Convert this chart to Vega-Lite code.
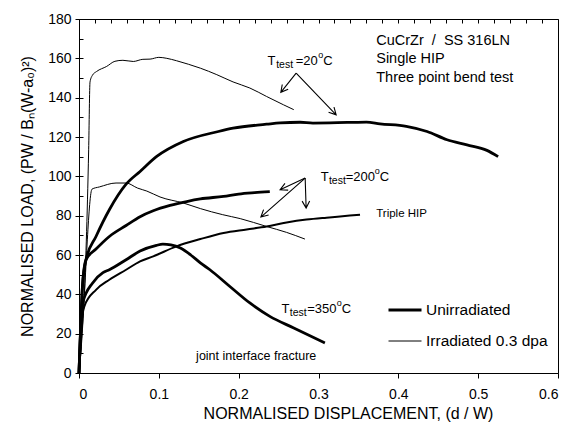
{
  "$schema": "https://vega.github.io/schema/vega-lite/v6.json",
  "width": 479,
  "height": 354,
  "autosize": {"type": "none"},
  "padding": {"left": 79, "top": 19, "right": 13, "bottom": 57},
  "background": "white",
  "config": {
    "font": "Liberation Sans",
    "view": {"stroke": "black", "strokeWidth": 1},
    "axis": {
      "domainColor": "black", "tickColor": "black", "labelColor": "black", "titleColor": "black",
      "labelFont": "Liberation Sans", "titleFont": "Liberation Sans",
      "labelFontSize": 14, "titleFontSize": 16, "titleFontWeight": "normal"
    },
    "legend": {"labelFont": "Liberation Sans"}
  },
  "datasets": {
    "curves": [
      {"curve": "irr20", "condition": "Irradiated 0.3 dpa", "x": 0.0003, "y": 0},
      {"curve": "irr20", "condition": "Irradiated 0.3 dpa", "x": 0.0121, "y": 113.5},
      {"curve": "irr20", "condition": "Irradiated 0.3 dpa", "x": 0.0138, "y": 148},
      {"curve": "irr20", "condition": "Irradiated 0.3 dpa", "x": 0.017, "y": 151.5},
      {"curve": "irr20", "condition": "Irradiated 0.3 dpa", "x": 0.022, "y": 153.3},
      {"curve": "irr20", "condition": "Irradiated 0.3 dpa", "x": 0.0347, "y": 155.9},
      {"curve": "irr20", "condition": "Irradiated 0.3 dpa", "x": 0.045, "y": 158.5},
      {"curve": "irr20", "condition": "Irradiated 0.3 dpa", "x": 0.055, "y": 159},
      {"curve": "irr20", "condition": "Irradiated 0.3 dpa", "x": 0.068, "y": 158.4},
      {"curve": "irr20", "condition": "Irradiated 0.3 dpa", "x": 0.08, "y": 159.5},
      {"curve": "irr20", "condition": "Irradiated 0.3 dpa", "x": 0.089, "y": 159.6},
      {"curve": "irr20", "condition": "Irradiated 0.3 dpa", "x": 0.1, "y": 160.5},
      {"curve": "irr20", "condition": "Irradiated 0.3 dpa", "x": 0.11, "y": 160},
      {"curve": "irr20", "condition": "Irradiated 0.3 dpa", "x": 0.122, "y": 158.8},
      {"curve": "irr20", "condition": "Irradiated 0.3 dpa", "x": 0.137, "y": 157},
      {"curve": "irr20", "condition": "Irradiated 0.3 dpa", "x": 0.152, "y": 155},
      {"curve": "irr20", "condition": "Irradiated 0.3 dpa", "x": 0.1726, "y": 151.7},
      {"curve": "irr20", "condition": "Irradiated 0.3 dpa", "x": 0.193, "y": 148},
      {"curve": "irr20", "condition": "Irradiated 0.3 dpa", "x": 0.214, "y": 144.9},
      {"curve": "irr20", "condition": "Irradiated 0.3 dpa", "x": 0.235, "y": 140.6},
      {"curve": "irr20", "condition": "Irradiated 0.3 dpa", "x": 0.256, "y": 136.4},
      {"curve": "irr20", "condition": "Irradiated 0.3 dpa", "x": 0.269, "y": 133.9},

      {"curve": "unirr20", "condition": "Unirradiated", "x": 0, "y": 0},
      {"curve": "unirr20", "condition": "Unirradiated", "x": 0.002, "y": 22},
      {"curve": "unirr20", "condition": "Unirradiated", "x": 0.0045, "y": 45},
      {"curve": "unirr20", "condition": "Unirradiated", "x": 0.0088, "y": 57.6},
      {"curve": "unirr20", "condition": "Unirradiated", "x": 0.0213, "y": 69.4},
      {"curve": "unirr20", "condition": "Unirradiated", "x": 0.038, "y": 83},
      {"curve": "unirr20", "condition": "Unirradiated", "x": 0.059, "y": 96},
      {"curve": "unirr20", "condition": "Unirradiated", "x": 0.0765, "y": 102.5},
      {"curve": "unirr20", "condition": "Unirradiated", "x": 0.0974, "y": 110.1},
      {"curve": "unirr20", "condition": "Unirradiated", "x": 0.1307, "y": 117.7},
      {"curve": "unirr20", "condition": "Unirradiated", "x": 0.1746, "y": 122.8},
      {"curve": "unirr20", "condition": "Unirradiated", "x": 0.193, "y": 124.5},
      {"curve": "unirr20", "condition": "Unirradiated", "x": 0.235, "y": 126.5},
      {"curve": "unirr20", "condition": "Unirradiated", "x": 0.252, "y": 127.2},
      {"curve": "unirr20", "condition": "Unirradiated", "x": 0.277, "y": 127.5},
      {"curve": "unirr20", "condition": "Unirradiated", "x": 0.293, "y": 127.1},
      {"curve": "unirr20", "condition": "Unirradiated", "x": 0.336, "y": 127.4},
      {"curve": "unirr20", "condition": "Unirradiated", "x": 0.36, "y": 127.6},
      {"curve": "unirr20", "condition": "Unirradiated", "x": 0.377, "y": 126.7},
      {"curve": "unirr20", "condition": "Unirradiated", "x": 0.41, "y": 125.4},
      {"curve": "unirr20", "condition": "Unirradiated", "x": 0.436, "y": 122.8},
      {"curve": "unirr20", "condition": "Unirradiated", "x": 0.461, "y": 118.6},
      {"curve": "unirr20", "condition": "Unirradiated", "x": 0.486, "y": 116},
      {"curve": "unirr20", "condition": "Unirradiated", "x": 0.511, "y": 113.2},
      {"curve": "unirr20", "condition": "Unirradiated", "x": 0.525, "y": 110},

      {"curve": "irr200", "condition": "Irradiated 0.3 dpa", "x": 0.0003, "y": 0},
      {"curve": "irr200", "condition": "Irradiated 0.3 dpa", "x": 0.0046, "y": 25.4},
      {"curve": "irr200", "condition": "Irradiated 0.3 dpa", "x": 0.0163, "y": 93.5},
      {"curve": "irr200", "condition": "Irradiated 0.3 dpa", "x": 0.0255, "y": 94.6},
      {"curve": "irr200", "condition": "Irradiated 0.3 dpa", "x": 0.0464, "y": 96.6},
      {"curve": "irr200", "condition": "Irradiated 0.3 dpa", "x": 0.059, "y": 96.6},
      {"curve": "irr200", "condition": "Irradiated 0.3 dpa", "x": 0.0735, "y": 94},
      {"curve": "irr200", "condition": "Irradiated 0.3 dpa", "x": 0.085, "y": 92.5},
      {"curve": "irr200", "condition": "Irradiated 0.3 dpa", "x": 0.1015, "y": 89.5},
      {"curve": "irr200", "condition": "Irradiated 0.3 dpa", "x": 0.131, "y": 86.4},
      {"curve": "irr200", "condition": "Irradiated 0.3 dpa", "x": 0.152, "y": 83.6},
      {"curve": "irr200", "condition": "Irradiated 0.3 dpa", "x": 0.18, "y": 80.5},
      {"curve": "irr200", "condition": "Irradiated 0.3 dpa", "x": 0.202, "y": 78.5},
      {"curve": "irr200", "condition": "Irradiated 0.3 dpa", "x": 0.235, "y": 74.5},
      {"curve": "irr200", "condition": "Irradiated 0.3 dpa", "x": 0.26, "y": 71.5},
      {"curve": "irr200", "condition": "Irradiated 0.3 dpa", "x": 0.283, "y": 68.1},

      {"curve": "unirr200", "condition": "Unirradiated", "x": 0, "y": 0},
      {"curve": "unirr200", "condition": "Unirradiated", "x": 0.002, "y": 22},
      {"curve": "unirr200", "condition": "Unirradiated", "x": 0.0045, "y": 45},
      {"curve": "unirr200", "condition": "Unirradiated", "x": 0.0088, "y": 57.6},
      {"curve": "unirr200", "condition": "Unirradiated", "x": 0.0213, "y": 63},
      {"curve": "unirr200", "condition": "Unirradiated", "x": 0.038, "y": 69.4},
      {"curve": "unirr200", "condition": "Unirradiated", "x": 0.059, "y": 75},
      {"curve": "unirr200", "condition": "Unirradiated", "x": 0.0765, "y": 79.5},
      {"curve": "unirr200", "condition": "Unirradiated", "x": 0.093, "y": 82.5},
      {"curve": "unirr200", "condition": "Unirradiated", "x": 0.114, "y": 85.2},
      {"curve": "unirr200", "condition": "Unirradiated", "x": 0.135, "y": 87.2},
      {"curve": "unirr200", "condition": "Unirradiated", "x": 0.152, "y": 88.5},
      {"curve": "unirr200", "condition": "Unirradiated", "x": 0.181, "y": 89.8},
      {"curve": "unirr200", "condition": "Unirradiated", "x": 0.2, "y": 91},
      {"curve": "unirr200", "condition": "Unirradiated", "x": 0.22, "y": 91.7},
      {"curve": "unirr200", "condition": "Unirradiated", "x": 0.239, "y": 92.2},

      {"curve": "unirr350", "condition": "Unirradiated", "x": 0, "y": 0},
      {"curve": "unirr350", "condition": "Unirradiated", "x": 0.002, "y": 22},
      {"curve": "unirr350", "condition": "Unirradiated", "x": 0.0046, "y": 35.6},
      {"curve": "unirr350", "condition": "Unirradiated", "x": 0.0171, "y": 45.8},
      {"curve": "unirr350", "condition": "Unirradiated", "x": 0.03, "y": 51},
      {"curve": "unirr350", "condition": "Unirradiated", "x": 0.038, "y": 52.5},
      {"curve": "unirr350", "condition": "Unirradiated", "x": 0.059, "y": 57.6},
      {"curve": "unirr350", "condition": "Unirradiated", "x": 0.0765, "y": 62},
      {"curve": "unirr350", "condition": "Unirradiated", "x": 0.097, "y": 64.9},
      {"curve": "unirr350", "condition": "Unirradiated", "x": 0.105, "y": 65.5},
      {"curve": "unirr350", "condition": "Unirradiated", "x": 0.115, "y": 65.1},
      {"curve": "unirr350", "condition": "Unirradiated", "x": 0.127, "y": 63.5},
      {"curve": "unirr350", "condition": "Unirradiated", "x": 0.14, "y": 60},
      {"curve": "unirr350", "condition": "Unirradiated", "x": 0.152, "y": 56},
      {"curve": "unirr350", "condition": "Unirradiated", "x": 0.164, "y": 52.5},
      {"curve": "unirr350", "condition": "Unirradiated", "x": 0.189, "y": 44},
      {"curve": "unirr350", "condition": "Unirradiated", "x": 0.214, "y": 35.6},
      {"curve": "unirr350", "condition": "Unirradiated", "x": 0.239, "y": 28.8},
      {"curve": "unirr350", "condition": "Unirradiated", "x": 0.269, "y": 22.9},
      {"curve": "unirr350", "condition": "Unirradiated", "x": 0.308, "y": 15.3}
    ],
    "triple": [
      {"curve": "triple200", "x": 0, "y": 0},
      {"curve": "triple200", "x": 0.002, "y": 20},
      {"curve": "triple200", "x": 0.0045, "y": 30},
      {"curve": "triple200", "x": 0.0067, "y": 33.9},
      {"curve": "triple200", "x": 0.0213, "y": 42.3},
      {"curve": "triple200", "x": 0.038, "y": 47.4},
      {"curve": "triple200", "x": 0.059, "y": 52.5},
      {"curve": "triple200", "x": 0.0765, "y": 56.8},
      {"curve": "triple200", "x": 0.093, "y": 59.3},
      {"curve": "triple200", "x": 0.122, "y": 64.4},
      {"curve": "triple200", "x": 0.152, "y": 68.1},
      {"curve": "triple200", "x": 0.181, "y": 71.2},
      {"curve": "triple200", "x": 0.21, "y": 73},
      {"curve": "triple200", "x": 0.235, "y": 74.5},
      {"curve": "triple200", "x": 0.26, "y": 76.5},
      {"curve": "triple200", "x": 0.285, "y": 78},
      {"curve": "triple200", "x": 0.31, "y": 79},
      {"curve": "triple200", "x": 0.327, "y": 79.6},
      {"curve": "triple200", "x": 0.352, "y": 80.5}
    ],
    "arrows": [
      {"arrow": "A1", "seq": 1, "x": 0.272, "y": 152.5},
      {"arrow": "A1", "seq": 2, "x": 0.2528, "y": 142.7},
      {"arrow": "A1", "seq": 3, "x": 0.262, "y": 144.3},
      {"arrow": "A1", "seq": 4, "x": 0.2528, "y": 142.7},
      {"arrow": "A1", "seq": 5, "x": 0.2546, "y": 146.7},
      {"arrow": "A2", "seq": 1, "x": 0.272, "y": 152.5},
      {"arrow": "A2", "seq": 2, "x": 0.3221, "y": 131.3},
      {"arrow": "A2", "seq": 3, "x": 0.3194, "y": 135.2},
      {"arrow": "A2", "seq": 4, "x": 0.3221, "y": 131.3},
      {"arrow": "A2", "seq": 5, "x": 0.3126, "y": 132.6},
      {"arrow": "B1", "seq": 1, "x": 0.2833, "y": 99.1},
      {"arrow": "B1", "seq": 2, "x": 0.2519, "y": 93.2},
      {"arrow": "B1", "seq": 3, "x": 0.262, "y": 93.0},
      {"arrow": "B1", "seq": 4, "x": 0.2519, "y": 93.2},
      {"arrow": "B1", "seq": 5, "x": 0.258, "y": 96.4},
      {"arrow": "B2", "seq": 1, "x": 0.2833, "y": 99.1},
      {"arrow": "B2", "seq": 2, "x": 0.2278, "y": 79.3},
      {"arrow": "B2", "seq": 3, "x": 0.2375, "y": 80.3},
      {"arrow": "B2", "seq": 4, "x": 0.2278, "y": 79.3},
      {"arrow": "B2", "seq": 5, "x": 0.2312, "y": 83.1},
      {"arrow": "B3", "seq": 1, "x": 0.2833, "y": 99.1},
      {"arrow": "B3", "seq": 2, "x": 0.2845, "y": 83.9},
      {"arrow": "B3", "seq": 3, "x": 0.2889, "y": 87.5},
      {"arrow": "B3", "seq": 4, "x": 0.2845, "y": 83.9},
      {"arrow": "B3", "seq": 5, "x": 0.2795, "y": 87.4}
    ],
    "texts": [
      {"t": "CuCrZr\u00a0\u00a0/\u00a0\u00a0SS 316LN", "part": "note", "x": 0.3723, "y": 166.9},
      {"t": "Single HIP", "part": "note", "x": 0.3723, "y": 157.6},
      {"t": "Three point bend test", "part": "note", "x": 0.3723, "y": 148.2},
      {"t": "T", "part": "main", "x": 0.236, "y": 156.7},
      {"t": "test", "part": "sub", "x": 0.247, "y": 156.7},
      {"t": "=20", "part": "main", "x": 0.2714, "y": 156.7},
      {"t": "o", "part": "sup", "x": 0.2996, "y": 156.7},
      {"t": "C", "part": "main", "x": 0.3058, "y": 156.7},
      {"t": "T", "part": "main", "x": 0.3028, "y": 97.4},
      {"t": "test", "part": "sub", "x": 0.313, "y": 97.4},
      {"t": "=200", "part": "main", "x": 0.334, "y": 97.4},
      {"t": "o", "part": "sup", "x": 0.3704, "y": 97.4},
      {"t": "C", "part": "main", "x": 0.3767, "y": 97.4},
      {"t": "T", "part": "main", "x": 0.2538, "y": 30.5},
      {"t": "test", "part": "sub", "x": 0.264, "y": 30.5},
      {"t": "=350", "part": "main", "x": 0.2858, "y": 30.5},
      {"t": "o", "part": "sup", "x": 0.3228, "y": 30.5},
      {"t": "C", "part": "main", "x": 0.3291, "y": 30.5},
      {"t": "Triple HIP", "part": "small", "x": 0.3723, "y": 79.3},
      {"t": "joint interface fracture", "part": "small2", "x": 0.1467, "y": 6.8}
    ]
  },
  "layer": [
    {
      "data": {"name": "curves"},
      "mark": {"type": "line", "color": "black", "strokeJoin": "round", "interpolate": "monotone"},
      "encoding": {
        "x": {"field": "x", "type": "quantitative", "scale": {"domain": [0, 0.6], "nice": false},
          "axis": {"orient": "bottom",
            "values": [0, 0.02, 0.04, 0.06, 0.08, 0.1, 0.12, 0.14, 0.16, 0.18, 0.2, 0.22, 0.24, 0.26, 0.28, 0.3, 0.32, 0.34, 0.36, 0.38, 0.4, 0.42, 0.44, 0.46, 0.48, 0.5, 0.52, 0.54, 0.56, 0.58, 0.6],
            "labelExpr": "abs(datum.value * 10 - round(datum.value * 10)) < 0.001 ? format(datum.value, '~g') : ''",
            "labelOverlap": false, "tickSize": 5, "labelPadding": 9,
            "tickOpacity": {"condition": {"test": "abs(datum.value * 10 - round(datum.value * 10)) < 0.001", "value": 1}, "value": 0},
            "grid": true, "gridColor": "black", "gridDash": [4, 2000], "gridWidth": 1, "gridOpacity": 1,
            "title": "NORMALISED DISPLACEMENT, (d / W)", "titleX": 269, "titleY": 40, "titleBaseline": "middle"}},
        "y": {"field": "y", "type": "quantitative", "scale": {"domain": [0, 180], "nice": false},
          "axis": {"orient": "left",
            "values": [0, 10, 20, 30, 40, 50, 60, 70, 80, 90, 100, 110, 120, 130, 140, 150, 160, 170, 180],
            "labelExpr": "datum.value % 20 == 0 ? format(datum.value, 'd') : ''",
            "labelOverlap": false, "tickSize": 4, "labelPadding": 4,
            "tickOpacity": {"condition": {"test": "datum.value % 20 == 0", "value": 1}, "value": 0},
            "grid": true, "gridColor": "black", "gridDash": [4, 2000], "gridWidth": 1, "gridOpacity": 1,
            "title": "NORMALISED LOAD, (PW / Bₙ(W-a₀)²)", "titleX": -52, "titleY": 177, "titleBaseline": "middle"}},
        "detail": {"field": "curve"},
        "order": {"field": "x", "type": "quantitative"},
        "strokeWidth": {"field": "condition", "type": "ordinal",
          "scale": {"domain": ["Unirradiated", "Irradiated 0.3 dpa"], "range": [2.8, 1]},
          "legend": {"title": null, "orient": "none", "legendX": 308, "legendY": 273, "symbolType": "stroke",
            "symbolSize": 1089, "symbolStrokeColor": "black", "labelFontSize": 15.5, "labelColor": "black",
            "labelOffset": 3, "rowPadding": 5, "padding": 0}}
      }
    },
    {
      "data": {"name": "triple"},
      "mark": {"type": "line", "color": "black", "strokeWidth": 2, "interpolate": "monotone"},
      "encoding": {
        "x": {"field": "x", "type": "quantitative", "scale": {"domain": [0, 0.6], "nice": false}, "axis": null},
        "y": {"field": "y", "type": "quantitative", "scale": {"domain": [0, 180], "nice": false}, "axis": null},
        "order": {"field": "x", "type": "quantitative"}
      }
    },
    {
      "data": {"name": "arrows"},
      "mark": {"type": "line", "color": "black", "strokeWidth": 1.1},
      "encoding": {
        "x": {"field": "x", "type": "quantitative", "scale": {"domain": [0, 0.6], "nice": false}, "axis": null},
        "y": {"field": "y", "type": "quantitative", "scale": {"domain": [0, 180], "nice": false}, "axis": null},
        "detail": {"field": "arrow"},
        "order": {"field": "seq", "type": "quantitative"}
      }
    },
    {
      "data": {"name": "texts"},
      "transform": [{"filter": "datum.part == 'note'"}],
      "mark": {"type": "text", "align": "left", "baseline": "alphabetic", "fontSize": 14.5, "color": "black"},
      "encoding": {
        "x": {"field": "x", "type": "quantitative", "scale": {"domain": [0, 0.6], "nice": false}, "axis": null},
        "y": {"field": "y", "type": "quantitative", "scale": {"domain": [0, 180], "nice": false}, "axis": null},
        "text": {"field": "t"}
      }
    },
    {
      "data": {"name": "texts"},
      "transform": [{"filter": "datum.part == 'main'"}],
      "mark": {"type": "text", "align": "left", "baseline": "alphabetic", "fontSize": 13, "color": "black"},
      "encoding": {
        "x": {"field": "x", "type": "quantitative", "scale": {"domain": [0, 0.6], "nice": false}, "axis": null},
        "y": {"field": "y", "type": "quantitative", "scale": {"domain": [0, 180], "nice": false}, "axis": null},
        "text": {"field": "t"}
      }
    },
    {
      "data": {"name": "texts"},
      "transform": [{"filter": "datum.part == 'sub'"}],
      "mark": {"type": "text", "align": "left", "baseline": "alphabetic", "fontSize": 10.5, "dy": 3, "color": "black"},
      "encoding": {
        "x": {"field": "x", "type": "quantitative", "scale": {"domain": [0, 0.6], "nice": false}, "axis": null},
        "y": {"field": "y", "type": "quantitative", "scale": {"domain": [0, 180], "nice": false}, "axis": null},
        "text": {"field": "t"}
      }
    },
    {
      "data": {"name": "texts"},
      "transform": [{"filter": "datum.part == 'sup'"}],
      "mark": {"type": "text", "align": "left", "baseline": "alphabetic", "fontSize": 9, "dy": -7, "color": "black"},
      "encoding": {
        "x": {"field": "x", "type": "quantitative", "scale": {"domain": [0, 0.6], "nice": false}, "axis": null},
        "y": {"field": "y", "type": "quantitative", "scale": {"domain": [0, 180], "nice": false}, "axis": null},
        "text": {"field": "t"}
      }
    },
    {
      "data": {"name": "texts"},
      "transform": [{"filter": "datum.part == 'small'"}],
      "mark": {"type": "text", "align": "left", "baseline": "alphabetic", "fontSize": 11.5, "color": "black"},
      "encoding": {
        "x": {"field": "x", "type": "quantitative", "scale": {"domain": [0, 0.6], "nice": false}, "axis": null},
        "y": {"field": "y", "type": "quantitative", "scale": {"domain": [0, 180], "nice": false}, "axis": null},
        "text": {"field": "t"}
      }
    },
    {
      "data": {"name": "texts"},
      "transform": [{"filter": "datum.part == 'small2'"}],
      "mark": {"type": "text", "align": "left", "baseline": "alphabetic", "fontSize": 12.5, "color": "black"},
      "encoding": {
        "x": {"field": "x", "type": "quantitative", "scale": {"domain": [0, 0.6], "nice": false}, "axis": null},
        "y": {"field": "y", "type": "quantitative", "scale": {"domain": [0, 180], "nice": false}, "axis": null},
        "text": {"field": "t"}
      }
    }
  ],
  "resolve": {"axis": {"x": "independent", "y": "independent"}}
}
